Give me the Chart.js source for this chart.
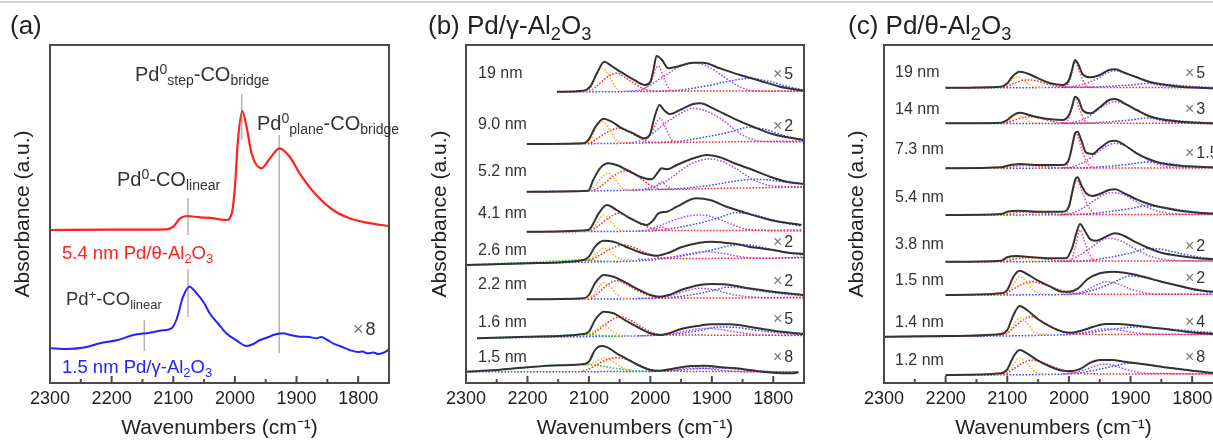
<!DOCTYPE html>
<html>
<head>
<meta charset="utf-8">
<script src="https://cdn.jsdelivr.net/npm/chart.js"></script>
<style>
  html, body { margin: 0; padding: 0; background: #fff; }
  body { width: 1213px; height: 441px; overflow: hidden; position: relative;
         font-family: "Liberation Sans", Arial, sans-serif; color: #333; }
  .topline { position: absolute; left: 0; top: 1px; width: 1213px; height: 2px; background: #d2d2d2; }
  .panel { position: absolute; top: 0; }
  .txt { position: absolute; line-height: 1; white-space: nowrap; }
  .txt sub { font-size: 0.7em; vertical-align: -0.32em; line-height: 0; }
  .txt sup { font-size: 0.7em; vertical-align: 0.48em; line-height: 0; }
  .x { color: #777; margin-right: 2px; }
</style>
</head>
<body>
<div class="topline"></div>
<div class="panel" style="left:0px"><canvas id="chartA" width="400" height="441"></canvas></div>
<div class="panel" style="left:420px"><canvas id="chartB" width="400" height="441"></canvas></div>
<div class="panel" style="left:820px"><canvas id="chartC" width="420" height="441"></canvas></div>
<div id="labels"></div>
<script>
// x: wavenumber (cm-1), y: absorbance with stacking offset (a.u.)
const xTicksMin = 1750, xTicksMax = 2300, yMax = 338;

// ---- panel (a)
const aTheta54 = [[2300,153],[2200,153.3],[2111,153.7],[2100,156.3],[2089,164.7],[2078,167],[2057,165.7],[2035,164.7],[2014,163],[2005,169.7],[2000,196],[1995,243],[1988,272],[1981,256],[1973,229.7],[1957,214.7],[1943,224.7],[1928,234.7],[1911,226.3],[1895,209.7],[1868,188],[1841,173],[1814,164.7],[1786,160.3],[1751,157]];
const aGamma15 = [[2300,34.7],[2273,34],[2245,35.5],[2219,39.7],[2190,43],[2165,48],[2138,50.3],[2120,52.5],[2103,54.7],[2095,63],[2084,86.3],[2074,96.3],[2062,89.7],[2050,80],[2041,69.7],[2028,60],[2014,49.7],[1997,42.3],[1981,37],[1970,39],[1959,43],[1945,46],[1938,48],[1922,49.7],[1910,48],[1895,46.3],[1880,46],[1868,44.7],[1860,46],[1850,43],[1841,39.7],[1830,37],[1814,33],[1800,31],[1793,31.5],[1786,29.7],[1775,30.5],[1768,29],[1760,30],[1751,33]];
const aMarkWn  = [2076, 2076, 1989, 1928, 2147];
const aMarkLow = [148, 66, 243, 30, 32];
const aMarkHigh = [185, 114, 289, 248, 63];

// ---- panel (b) Pd/gamma-Al2O3
const bSizes = ['19 nm','9.0 nm','5.2 nm','4.1 nm','2.6 nm','2.2 nm','1.6 nm','1.5 nm'];
const bFactors = ['5','2','','','2','2','5','8'];

const b19 = [[2152,291.3],[2109,292.3],[2098,296.3],[2087,309.7],[2075,321.3],[2063,317],[2049,311.3],[2028,303.7],[2009,298],[2000,301.3],[1995,313],[1990,327],[1981,323],[1971,314.7],[1957,316.3],[1930,320.3],[1914,320.3],[1887,314.7],[1854,308],[1822,302.3],[1789,296.3],[1751,292.3]];
const b19_or = [[2152,291.3],[2110,291.5],[2098,294],[2090,305],[2079,314.7],[2068,308],[2058,297],[2048,292],[2030,291.5]];
const b19_rd = [[2152,291.3],[2100,292],[2085,298],[2070,306],[2055,309.7],[2040,305],[2025,299],[2010,294],[1995,292],[1900,292],[1751,292]];
const b19_pk = [[2015,291.8],[2000,300],[1987,317],[1978,305],[1968,293],[1958,291.8]];
const b19_pu = [[2040,291.8],[2020,292.5],[2000,298],[1975,308],[1950,317],[1930,320.3],[1905,316],[1880,306],[1860,298],[1840,293],[1820,291.8],[1751,291.8]];
const b19_bl = [[2152,291.3],[2000,291.5],[1950,293],[1910,297],[1870,302],[1840,304.7],[1810,302],[1780,297],[1751,293]];

const b9_0 = [[2201,239],[2109,239.7],[2099,244.7],[2090,255.7],[2076,264.3],[2063,261.3],[2049,255.7],[2028,249.7],[2009,244.7],[2000,249.7],[1993,266.3],[1985,278],[1978,273],[1968,269],[1952,273],[1930,279],[1919,279.7],[1898,274.7],[1865,264.7],[1833,256.3],[1800,248.7],[1751,243]];
const b9_0_or = [[2201,239],[2105,240],[2095,246],[2088,255],[2079,261.3],[2068,255],[2058,245],[2048,240.5],[2030,240.3]];
const b9_0_rd = [[2201,239],[2100,240],[2085,245],[2070,251],[2052,254.7],[2035,251],[2020,246],[2005,241.5],[1990,240.5],[1900,241],[1751,242]];
const b9_0_pk = [[2012,240.5],[2000,248],[1984,264.7],[1975,255],[1965,243],[1955,241]];
const b9_0_pu = [[2040,240.3],[2030,240.5],[2000,248],[1975,260],[1950,270],[1930,274.7],[1905,271],[1880,262],[1860,252],[1840,245],[1815,241.5],[1751,241]];
const b9_0_bl = [[2201,239],[2000,240.3],[1950,242],[1910,246],[1870,251],[1840,255.7],[1810,253],[1780,247],[1751,243]];

const b5_2 = [[2201,191.3],[2101,192.3],[2093,203],[2082,214.7],[2068,219.7],[2055,218],[2038,213],[2017,206.3],[1998,203.7],[1987,211.3],[1982,214.7],[1973,213.7],[1957,218],[1930,224.7],[1908,228],[1887,225.7],[1860,219],[1833,213],[1805,206.3],[1778,201.3],[1751,199]];
const b5_2_or = [[2201,191.3],[2100,192],[2090,197],[2080,205],[2068,209.7],[2058,204],[2048,196],[2038,193],[2020,192.5]];
const b5_2_rd = [[2201,191.3],[2095,192.5],[2080,197],[2060,207],[2041,212.3],[2025,209],[2010,202],[1995,196],[1980,193.5],[1900,194.5],[1751,196]];
const b5_2_pk = [[2005,193.3],[1990,197],[1982,201.3],[1974,197],[1965,194]];
const b5_2_pu = [[2030,193],[2010,194],[1980,200],[1960,208],[1940,217],[1920,222.5],[1905,224],[1885,222],[1860,214],[1840,206],[1820,200],[1800,197],[1751,196]];
const b5_2_bl = [[2201,191.3],[1990,193.5],[1940,195],[1900,198],[1860,202],[1830,203.7],[1800,202.5],[1770,200],[1751,199]];

const b4_1 = [[2201,151.3],[2101,153],[2084,169.7],[2071,178],[2055,173],[2033,164.7],[2006,158],[1995,163],[1987,169.7],[1973,171.3],[1957,176.3],[1925,184.7],[1903,183],[1876,176.3],[1843,169.7],[1805,163],[1754,158]];
const b4_1_or = [[2201,151.3],[2105,151.5],[2092,156],[2076,168],[2062,160],[2050,153],[2040,152]];
const b4_1_rd = [[2201,151.3],[2100,152],[2085,157],[2068,165],[2052,169.7],[2035,166],[2015,159],[1995,154],[1980,152.5],[1900,152.5],[1754,153]];
const b4_1_pk = [[1995,152.5],[1982,156],[1970,153]];
const b4_1_pu = [[2020,152.3],[2010,152.5],[1990,156],[1970,161],[1945,166],[1925,168],[1905,167],[1885,163],[1865,158],[1845,154],[1820,152.5],[1754,152]];
const b4_1_bl = [[2201,151.3],[2000,152],[1960,155],[1920,160],[1890,165],[1860,170.3],[1830,168],[1800,163],[1775,159],[1754,157]];

const b2_6 = [[2300,118],[2200,119.7],[2109,123],[2100,126.3],[2090,136.3],[2076,142.3],[2060,141.3],[2040,136.3],[2020,131.3],[2000,128],[1990,127.3],[1970,130.3],[1950,135.7],[1920,140.3],[1900,141.3],[1880,140.3],[1860,139],[1840,136.3],[1820,134.7],[1800,133],[1775,130.3],[1751,129]];
const b2_6_gr = [[2300,118],[2250,119.5],[2200,120.5],[2150,122],[2110,123],[2090,122.5],[2070,121.5],[2050,121]];
const b2_6_or = [[2115,123],[2110,123],[2095,125.5],[2085,131],[2076,134.7],[2065,131],[2055,126],[2045,123.5],[2030,123.2]];
const b2_6_rd = [[2110,123],[2100,123],[2085,127],[2065,134],[2044,138],[2025,135],[2005,129.5],[1985,125.5],[1965,124.5],[1751,125.3]];
const b2_6_pu = [[2020,123.8],[2000,124],[1970,125.5],[1940,129],[1910,131.3],[1885,130],[1860,127],[1835,125],[1800,124.5],[1751,126]];
const b2_6_bl = [[2300,118],[2100,121],[2000,123],[1950,127],[1900,133],[1870,137.5],[1850,138.5],[1820,136],[1790,131.5],[1751,128]];

const b2_2 = [[2201,83.7],[2109,84.7],[2100,88],[2090,99.7],[2076,108],[2060,106.3],[2040,100.3],[2020,93.7],[2000,88],[1985,86.3],[1970,88],[1950,93],[1920,98],[1900,99],[1880,98.7],[1860,97],[1840,94.7],[1800,91.3],[1751,88]];
const b2_2_or = [[2201,83.7],[2110,84],[2095,87],[2085,95],[2076,100.3],[2065,96],[2055,89],[2045,85],[2030,84.5]];
const b2_2_rd = [[2201,83.7],[2100,84.5],[2085,90],[2070,98],[2055,102.3],[2040,99],[2020,92],[2000,87],[1980,85],[1900,85],[1751,85.5]];
const b2_2_pu = [[2020,84.8],[2000,85],[1970,87],[1945,91.5],[1920,94.7],[1895,93],[1870,89],[1845,86.5],[1800,85.5],[1751,85.5]];
const b2_2_bl = [[2201,83.7],[2000,84.5],[1960,86],[1920,89.5],[1895,93],[1875,95.7],[1850,95],[1820,92],[1790,89.5],[1751,87.5]];

const b1_6 = [[2282,44.7],[2200,46.3],[2109,49],[2100,51.3],[2090,63],[2076,71.3],[2060,69.7],[2040,62.3],[2020,55.7],[2000,49.7],[1985,48],[1970,49.7],[1950,54],[1920,57.3],[1900,58.7],[1870,58.7],[1840,56.3],[1800,52.3],[1751,49]];
const b1_6_gr = [[2282,44.7],[2200,46.3],[2150,47.5],[2110,48.5],[2090,48],[2070,47],[2050,46.5]];
const b1_6_or = [[2110,48],[2105,48],[2093,51],[2085,55],[2076,58],[2066,54],[2056,49.5],[2046,47.5],[2030,47.3]];
const b1_6_rd = [[2110,48],[2100,48],[2085,53],[2068,61],[2049,66.3],[2030,62],[2012,55],[1995,50],[1975,48],[1751,47.8]];
const b1_6_pu = [[2020,47.3],[2000,47.5],[1960,50],[1930,53.5],[1905,54.7],[1880,53],[1850,50],[1820,48],[1751,47.5]];
const b1_6_bl = [[2282,44.7],[2100,46.5],[2000,47.5],[1960,49],[1920,52.5],[1890,56],[1860,55.5],[1830,53],[1790,50],[1751,48.5]];

const b1_5 = [[2300,11.3],[2250,13],[2200,15.7],[2150,17.7],[2109,19],[2100,21.3],[2090,33],[2080,37],[2070,35.7],[2055,29.7],[2040,24.7],[2020,18],[2000,13],[1985,12.3],[1960,14.7],[1935,17],[1910,17.3],[1885,15.7],[1860,14.7],[1830,12.3],[1800,10.3],[1770,9.7],[1759,10.7]];
const b1_5_gr = [[2300,11.3],[2250,13],[2200,15.5],[2150,17.5],[2110,18.5],[2090,18],[2060,15],[2030,12.5],[2000,11.5]];
const b1_5_or = [[2110,17.5],[2105,18],[2090,21],[2076,24.7],[2062,22],[2050,17],[2040,14],[2030,12]];
const b1_5_rd = [[2110,12],[2100,14],[2085,19],[2070,23.5],[2055,25.3],[2040,24],[2020,18.5],[2000,13.5],[1985,12],[1900,11.5],[1759,11]];
const b1_5_pu = [[2000,11.5],[1960,13],[1935,15],[1910,14.5],[1880,12.5],[1850,11.5],[1759,11]];
const b1_5_bl = [[2300,11.3],[2000,11.5],[1960,12.5],[1920,14.5],[1890,15],[1860,14],[1820,12],[1780,11],[1759,11]];

// ---- panel (c) Pd/theta-Al2O3
const cSizes = ['19 nm','14 nm','7.3 nm','5.4 nm','3.8 nm','1.5 nm','1.4 nm','1.2 nm'];
const cFactors = ['5','3','1.5','','2','2','4','8'];

const c19 = [[2200,295.3],[2110,296.3],[2100,299.7],[2092,306.3],[2080,311.3],[2065,309],[2050,304.7],[2030,299.7],[2010,298],[2000,303],[1995,313],[1990,323],[1985,319],[1978,309],[1965,305.7],[1950,308],[1935,313],[1925,313.7],[1910,310.3],[1890,305.7],[1870,301.3],[1850,298.7],[1820,296.3],[1790,295.3],[1750,294.3]];
const c19_or = [[2200,295.3],[2110,296],[2098,299],[2085,306.3],[2072,302],[2062,297.5],[2052,296],[2040,295.8]];
const c19_rd = [[2200,295.3],[2105,296],[2090,299.5],[2075,302.5],[2062,303],[2045,301],[2030,298],[2010,296],[1900,295.5],[1750,295]];
const c19_pk = [[2012,296],[2005,296.5],[1997,305],[1990,321.3],[1983,311],[1975,300],[1968,296],[1960,295.8]];
const c19_pu = [[2010,295.8],[2000,296],[1975,299],[1955,304],[1940,309.5],[1925,312.3],[1905,309],[1885,304],[1865,299.5],[1845,297],[1820,296],[1750,295.5]];
const c19_bl = [[2200,295.3],[1990,295.5],[1940,296.5],[1900,298],[1870,299.5],[1840,298.5],[1800,296.5],[1750,295]];

const c14 = [[2200,259.7],[2110,260.3],[2100,263],[2090,268],[2080,270.3],[2065,268],[2050,265.7],[2030,263.7],[2010,263],[2000,268],[1995,276.3],[1990,286.3],[1984,283],[1978,273],[1965,269.7],[1950,275.7],[1935,283],[1925,284],[1910,279.7],[1890,273],[1870,267],[1850,263.7],[1820,261.3],[1790,260.3],[1750,259]];
const c14_or = [[2200,259.7],[2110,260],[2097,262.5],[2085,268],[2073,265],[2062,261],[2052,260],[2040,259.8]];
const c14_rd = [[2200,259.7],[2105,260],[2090,262.5],[2075,265.5],[2062,266.3],[2045,264.5],[2030,262],[2010,260],[1900,259.8],[1750,259.5]];
const c14_pk = [[2012,260.3],[2005,260.5],[1997,270],[1990,284.7],[1983,274],[1975,263],[1968,260],[1960,259.8]];
const c14_pu = [[2010,259.8],[2000,260],[1975,264],[1955,272],[1940,278.5],[1925,281.3],[1905,278],[1885,271],[1865,265],[1845,261.5],[1820,260],[1750,259.5]];
const c14_bl = [[2200,259.7],[1990,259.5],[1940,261],[1900,263],[1875,265],[1850,264],[1810,261.5],[1750,259.5]];

const c7_3 = [[2200,214.7],[2110,215.7],[2100,217.3],[2080,219],[2050,218],[2010,218],[2000,223.7],[1995,236.3],[1990,249.7],[1986,251.3],[1980,243],[1972,230.3],[1962,229],[1950,234.7],[1935,241.3],[1925,242.3],[1910,238],[1890,229.7],[1870,223.7],[1850,219.7],[1820,217.3],[1790,216.3],[1750,215.3]];
const c7_3_or = [[2200,214.7],[2110,215],[2095,217],[2080,218.5],[2065,217],[2050,215],[2040,214.8]];
const c7_3_rd = [[2200,214.7],[2105,215],[2085,217],[2065,217.5],[2040,216.5],[2010,215],[1900,215],[1750,215]];
const c7_3_pk = [[2012,215.3],[2005,215.5],[1997,230],[1988,249.7],[1980,235],[1972,222],[1962,216],[1955,215]];
const c7_3_pu = [[2010,215.3],[2000,215.5],[1975,221],[1955,230],[1940,236.5],[1925,239.7],[1905,236],[1885,228],[1865,221],[1845,217],[1820,215.5],[1750,215.3]];
const c7_3_bl = [[2200,214.7],[1990,215],[1940,216.5],[1900,219],[1870,221],[1845,220],[1810,217],[1750,215.5]];

const c5_4 = [[2200,168],[2110,169],[2100,171.3],[2080,172.3],[2050,171.3],[2010,171.3],[2000,176.3],[1995,189.7],[1990,203],[1986,205.7],[1980,198],[1972,189.7],[1962,187],[1950,189],[1935,193],[1925,193.7],[1910,189.7],[1890,183.7],[1870,179],[1850,175.7],[1820,172.3],[1790,170.3],[1750,169]];
const c5_4_or = [[2200,168],[2110,168.5],[2095,170.5],[2080,171.5],[2065,170.5],[2050,168.5],[2040,168.3]];
const c5_4_rd = [[2200,168],[2105,168.5],[2085,170.5],[2065,171],[2040,170],[2010,168.5],[1900,168.5],[1750,168.5]];
const c5_4_pk = [[2012,168.8],[2005,169],[1997,184],[1987,203],[1978,190],[1968,176],[1958,169.5],[1950,168.5]];
const c5_4_pu = [[2015,168.3],[2005,168.5],[1980,174],[1960,182],[1945,188],[1930,190.3],[1910,188],[1890,181],[1870,175],[1850,171],[1820,169],[1750,168.5]];
const c5_4_bl = [[2200,168],[1990,168.5],[1940,171],[1900,174.5],[1875,177],[1850,176],[1815,172.5],[1780,170],[1750,169]];

const c3_8 = [[2200,121.3],[2110,122.3],[2100,125.7],[2085,127],[2060,125.7],[2030,124.7],[2005,124.7],[1995,134.7],[1988,149.7],[1982,159],[1975,153],[1965,143.7],[1955,142.3],[1940,146.3],[1925,149.7],[1910,147],[1890,140.3],[1870,134.7],[1850,130.3],[1820,127],[1790,124.7],[1750,123]];
const c3_8_or = [[2200,121.3],[2110,121.5],[2095,124.5],[2082,126],[2068,124.5],[2055,122],[2045,121.6]];
const c3_8_rd = [[2200,121.3],[2105,121.5],[2085,124.5],[2065,125.5],[2040,124],[2010,122],[1900,122],[1750,122]];
const c3_8_pk = [[2005,121.8],[1998,122],[1990,135],[1982,153],[1975,142],[1968,130],[1960,123],[1955,122]];
const c3_8_pu = [[2015,121.8],[2005,122],[1985,127],[1965,135],[1950,141.5],[1935,144.7],[1915,142],[1895,135],[1875,128.5],[1855,124.5],[1830,122.5],[1750,122]];
const c3_8_bl = [[2200,121.3],[1990,121.5],[1940,125],[1900,130],[1870,134.7],[1845,133],[1815,129],[1785,125.5],[1750,123.5]];

const c1_5 = [[2200,88],[2110,89.7],[2100,93],[2090,106.3],[2080,112.3],[2068,109],[2050,102.3],[2030,96.3],[2010,91.3],[2000,91.3],[1985,94.7],[1970,103.7],[1950,109.7],[1930,111.3],[1910,110.3],[1890,108],[1870,104.7],[1850,101.3],[1820,97],[1790,93],[1750,90.3]];
const c1_5_or = [[2200,88],[2110,89],[2095,94],[2080,106.3],[2068,101],[2058,93],[2048,89.5],[2035,89]];
const c1_5_rd = [[2200,88],[2105,89],[2090,94],[2075,99],[2060,101.3],[2040,98.5],[2020,94],[2000,90.5],[1985,89],[1900,88.8],[1750,88.8]];
const c1_5_pu = [[2010,88.8],[2000,89],[1975,92],[1955,98],[1940,101.3],[1920,99],[1900,94],[1880,90.5],[1860,89],[1750,88.8]];
const c1_5_bl = [[2200,88],[2000,88.5],[1960,93],[1930,100],[1900,107],[1870,104.5],[1840,100],[1810,95],[1780,91.5],[1750,90]];

const c1_4 = [[2300,46.3],[2200,47],[2110,49],[2100,53],[2090,68],[2080,77],[2068,73],[2050,63.7],[2030,56.3],[2010,51.3],[1995,50.3],[1980,52.3],[1960,56.3],[1940,59],[1920,59],[1900,58],[1870,55.7],[1840,53.7],[1810,51.3],[1780,49.7],[1750,49]];
const c1_4_or = [[2115,48.5],[2110,48.5],[2095,53],[2080,64.7],[2068,60],[2058,52],[2048,49],[2035,48.7]];
const c1_4_rd = [[2300,46.3],[2105,48.5],[2090,55],[2075,63],[2062,66.3],[2045,62],[2025,55],[2005,50.5],[1990,49],[1900,48.5],[1750,48.5]];
const c1_4_pu = [[2010,48.5],[2000,48.5],[1970,51],[1945,54],[1925,53.5],[1900,51],[1870,49],[1750,48.5]];
const c1_4_bl = [[2300,46.3],[2000,48.5],[1960,51],[1920,54.5],[1890,56],[1860,55],[1820,53],[1780,51],[1750,50]];

const c1_2 = [[2200,8],[2110,9.7],[2100,13.7],[2090,26.3],[2080,33],[2068,29.7],[2050,22.3],[2030,16.3],[2010,12.3],[1995,12],[1980,14.7],[1965,20.3],[1950,23],[1930,23],[1910,21.3],[1890,19.7],[1860,17],[1830,14.7],[1800,12.3],[1770,10.3],[1750,9.7]];
const c1_2_or = [[2200,8],[2110,9],[2095,14],[2080,24.7],[2068,20],[2058,13],[2048,9.5],[2035,9]];
const c1_2_rd = [[2200,8],[2105,9],[2090,14],[2075,20],[2060,23],[2040,20],[2020,15],[2000,11],[1985,9.5],[1900,9],[1750,9]];
const c1_2_pu = [[2010,9.3],[2000,9.5],[1975,13],[1955,17.5],[1945,19],[1930,18],[1910,14],[1890,11],[1870,9.5],[1750,9.3]];
const c1_2_bl = [[2200,8],[2000,9],[1960,12.5],[1930,16.5],[1900,19.7],[1870,18.5],[1840,15.5],[1800,12.5],[1770,10.5],[1750,10]];

// grouping of spectra and their fitted components
const bSpectra = [b19, b9_0, b5_2, b4_1, b2_6, b2_2, b1_6, b1_5];
const bComps = [
  [['or',b19_or],['rd',b19_rd],['pk',b19_pk],['pu',b19_pu],['bl',b19_bl]],
  [['or',b9_0_or],['rd',b9_0_rd],['pk',b9_0_pk],['pu',b9_0_pu],['bl',b9_0_bl]],
  [['or',b5_2_or],['rd',b5_2_rd],['pk',b5_2_pk],['pu',b5_2_pu],['bl',b5_2_bl]],
  [['or',b4_1_or],['rd',b4_1_rd],['pk',b4_1_pk],['pu',b4_1_pu],['bl',b4_1_bl]],
  [['gr',b2_6_gr],['or',b2_6_or],['rd',b2_6_rd],['pu',b2_6_pu],['bl',b2_6_bl]],
  [['or',b2_2_or],['rd',b2_2_rd],['pu',b2_2_pu],['bl',b2_2_bl]],
  [['gr',b1_6_gr],['or',b1_6_or],['rd',b1_6_rd],['pu',b1_6_pu],['bl',b1_6_bl]],
  [['gr',b1_5_gr],['or',b1_5_or],['rd',b1_5_rd],['pu',b1_5_pu],['bl',b1_5_bl]]
];
const cSpectra = [c19, c14, c7_3, c5_4, c3_8, c1_5, c1_4, c1_2];
const cComps = [
  [['or',c19_or],['rd',c19_rd],['pk',c19_pk],['pu',c19_pu],['bl',c19_bl]],
  [['or',c14_or],['rd',c14_rd],['pk',c14_pk],['pu',c14_pu],['bl',c14_bl]],
  [['or',c7_3_or],['rd',c7_3_rd],['pk',c7_3_pk],['pu',c7_3_pu],['bl',c7_3_bl]],
  [['or',c5_4_or],['rd',c5_4_rd],['pk',c5_4_pk],['pu',c5_4_pu],['bl',c5_4_bl]],
  [['or',c3_8_or],['rd',c3_8_rd],['pk',c3_8_pk],['pu',c3_8_pu],['bl',c3_8_bl]],
  [['or',c1_5_or],['rd',c1_5_rd],['pu',c1_5_pu],['bl',c1_5_bl]],
  [['or',c1_4_or],['rd',c1_4_rd],['pu',c1_4_pu],['bl',c1_4_bl]],
  [['or',c1_2_or],['rd',c1_2_rd],['pu',c1_2_pu],['bl',c1_2_bl]]
];

const partColor = { gr: '#2cc52c', or: '#ffb030', rd: '#ff2a2a', pk: '#ff4a8c', pu: '#a24cff', bl: '#3a4cff' };

// label placement (px) - layout only
const bLabelTop = [65, 116, 163, 205, 242, 276, 314, 349];
const bFactorTop = [66, 118, 0, 0, 234, 273, 311, 349];
const cLabelTop = [64, 101, 141, 189, 236, 272, 314, 352];
const cFactorTop = [65, 101, 145, 0, 238, 270, 314, 349];

Chart.defaults.font.family = '"Liberation Sans", Arial, sans-serif';
Chart.defaults.color = '#222';

function pts(arr) { return arr.map(p => ({ x: p[0], y: p[1] })); }

function lineSet(arr, color, width, dotted, order) {
  return {
    data: pts(arr), borderColor: color, borderWidth: width,
    borderDash: dotted ? [1.6, 1.6] : [], pointRadius: 0, fill: false,
    cubicInterpolationMode: 'monotone', order: order
  };
}

const framePlugin = {
  id: 'frame',
  afterDraw(chart) {
    const { ctx, chartArea: a } = chart;
    const x = chart.scales.x;
    ctx.save();
    ctx.strokeStyle = '#4a4a4a';
    ctx.lineWidth = 2;
    ctx.beginPath();
    x.ticks.forEach(t => {
      const px = x.getPixelForValue(t.value);
      const len = t.value % 100 === 0 ? 7 : 4;
      ctx.moveTo(px, a.bottom);
      ctx.lineTo(px, a.bottom - len);
    });
    ctx.stroke();
    ctx.strokeRect(a.left, a.top, a.right - a.left, a.bottom - a.top);
    ctx.restore();
  }
};

// axisW: width reserved for the y title; plot area spans 45..383 px vertically
function makeChart(id, datasets, rightPad, axisW, titleTop) {
  return new Chart(document.getElementById(id), {
    type: 'line',
    data: { datasets: datasets },
    options: {
      responsive: false, animation: false, devicePixelRatio: 1,
      layout: { padding: { top: 45, right: rightPad, bottom: 0, left: 0 } },
      plugins: { legend: { display: false }, tooltip: { enabled: false } },
      scales: {
        x: {
          type: 'linear', min: xTicksMin, max: xTicksMax, reverse: true,
          grid: { display: false, drawTicks: false }, border: { display: false },
          ticks: {
            stepSize: 50, autoSkip: false, maxRotation: 0, padding: 5, color: '#222',
            font: { size: 18 },
            callback: v => (v % 100 === 0 ? String(v) : '')
          },
          title: { display: true, text: 'Wavenumbers (cm⁻¹)', color: '#222', font: { size: 21 }, padding: { top: 0, bottom: 0 } },
          afterFit: s => { s.height = 58; }
        },
        y: {
          min: 0, max: yMax,
          grid: { display: false, drawTicks: false }, border: { display: false },
          ticks: { display: false },
          title: { display: true, text: 'Absorbance (a.u.)', color: '#222', font: { size: 21 }, padding: { top: titleTop, bottom: 0 } },
          afterFit: s => { s.width = axisW; }
        }
      }
    },
    plugins: [framePlugin]
  });
}

// panel (a)
const aSets = [];
aMarkWn.forEach((wn, i) => {
  aSets.push({ data: pts([[wn, aMarkLow[i]], [wn, aMarkHigh[i]]]), borderColor: '#b4b4b4', borderWidth: 1.5,
               pointRadius: 0, tension: 0, fill: false, order: 2 });
});
aSets.push(lineSet(aTheta54, '#ff2020', 2.2, false, 0));
aSets.push(lineSet(aGamma15, '#2323ff', 2, false, 0));
makeChart('chartA', aSets, 11, 50, 10.4);

function stackSets(spectra, comps) {
  const sets = [];
  spectra.forEach((s, i) => {
    comps[i].forEach(c => sets.push(lineSet(c[1], partColor[c[0]], 1.5, true, 1)));
    sets.push(lineSet(s, '#333333', 2, false, 0));
  });
  return sets;
}
makeChart('chartB', stackSets(bSpectra, bComps), 16, 46, 7.4);
makeChart('chartC', stackSets(cSpectra, cComps), 17, 64, 24.4);

// text overlays
const labelBox = document.getElementById('labels');
function addText(html, left, top, size, color) {
  const d = document.createElement('div');
  d.className = 'txt';
  d.style.left = left + 'px';
  d.style.top = top + 'px';
  d.style.fontSize = size + 'px';
  d.style.color = color || '#333';
  d.innerHTML = html;
  labelBox.appendChild(d);
}
addText('(a)', 10, 12, 26, '#222');
addText('(b) Pd/γ-Al<sub>2</sub>O<sub>3</sub>', 428, 12, 26, '#222');
addText('(c) Pd/θ-Al<sub>2</sub>O<sub>3</sub>', 848, 12, 26, '#222');

addText('Pd<sup>0</sup><sub>step</sub>-CO<sub>bridge</sub>', 135, 64, 20);
addText('Pd<sup>0</sup><sub>plane</sub>-CO<sub>bridge</sub>', 257, 113, 20);
addText('Pd<sup>0</sup>-CO<sub>linear</sub>', 117, 169, 20);
addText('5.4 nm Pd/θ-Al<sub>2</sub>O<sub>3</sub>', 62, 244, 18.5, '#ff2020');
addText('Pd<sup>+</sup>-CO<sub>linear</sub>', 66, 290, 18.5);
addText('<span class="x">×</span>8', 353, 320, 18);
addText('1.5 nm Pd/γ-Al<sub>2</sub>O<sub>3</sub>', 62, 358, 18.5, '#2323ff');

bSizes.forEach((s, i) => addText(s, 478, bLabelTop[i], 16));
bFactors.forEach((f, i) => { if (f) addText('<span class="x">×</span>' + f, 773, bFactorTop[i], 16); });
cSizes.forEach((s, i) => addText(s, 895, cLabelTop[i], 16));
cFactors.forEach((f, i) => { if (f) addText('<span class="x">×</span>' + f, 1185, cFactorTop[i], 16); });
</script>
</body>
</html>
